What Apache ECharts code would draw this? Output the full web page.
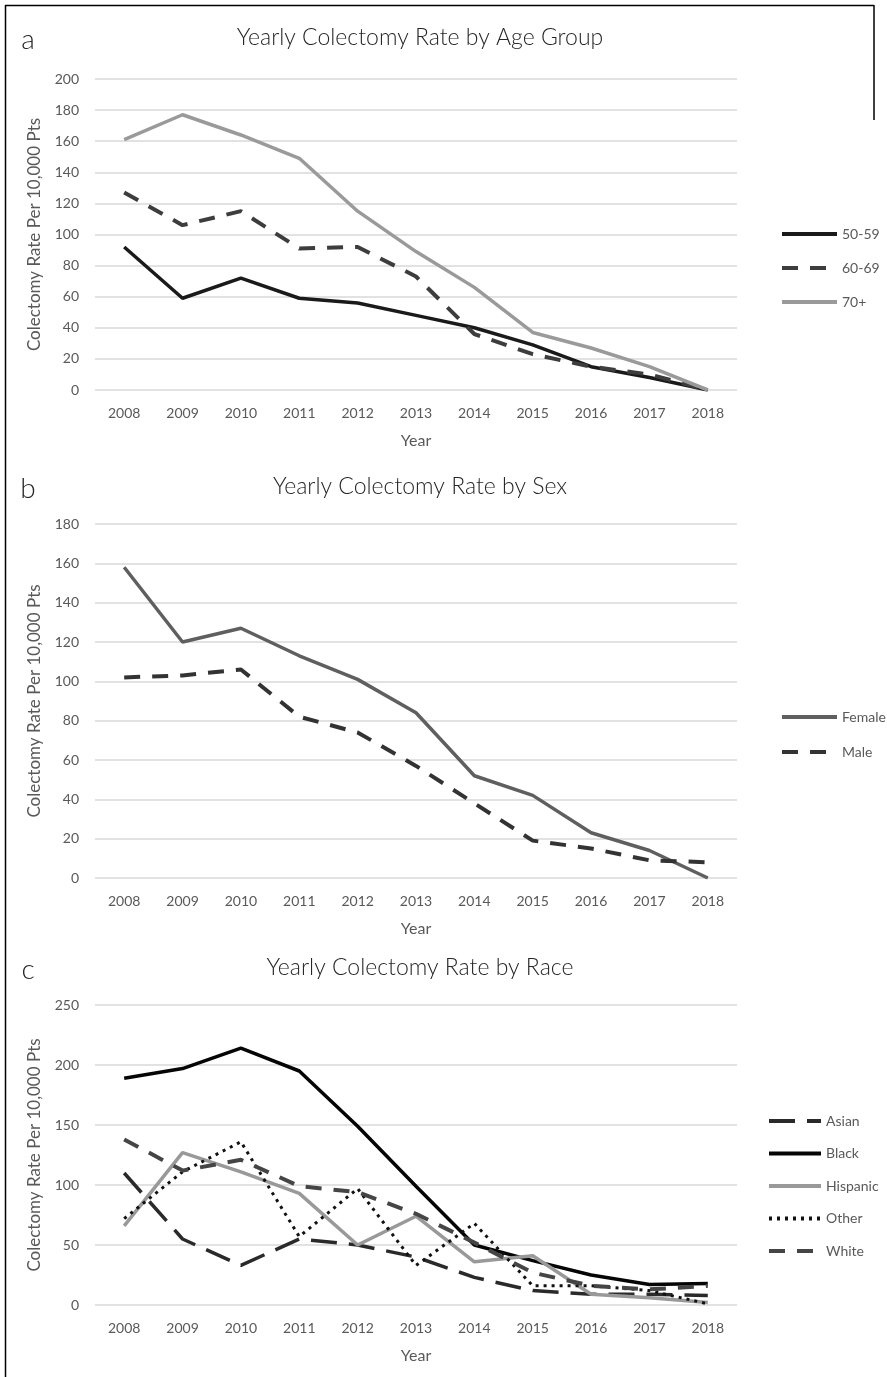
<!DOCTYPE html>
<html>
<head>
<meta charset="utf-8">
<script src="https://cdn.jsdelivr.net/npm/echarts@6/dist/echarts.min.js"></script>
<style>
html,body{margin:0;padding:0;background:#fff;}
#c{width:887px;height:1377px;}
</style>
</head>
<body>
<div id="c"></div>
<script>
const years = ['2008','2009','2010','2011','2012','2013','2014','2015','2016','2017','2018'];

// Panel a: by age group
const age5059 = [92, 59, 72, 59, 56, 48, 40, 29, 15, 8, 0];
const age6069 = [127, 106, 115, 91, 92, 73, 36, 23, 15, 10, 0];
const age70   = [161, 177, 164, 149, 115, 89, 66, 37, 27, 15, 0];

// Panel b: by sex
const female = [158, 120, 127, 113, 101, 84, 52, 42, 23, 14, 0];
const male   = [102, 103, 106, 82, 74, 57, 38, 19, 15, 9, 8];

// Panel c: by race
const asian    = [110, 55, 33, 55, 50, 40, 23, 12, 9, 9, 8];
const black    = [189, 197, 214, 195, 149, 99, 50, 37, 25, 17, 18];
const hispanic = [66, 127, 111, 93, 50, 74, 36, 41, 9, 6, 2];
const other    = [72, 111, 136, 57, 97, 33, 68, 16, 16, 12, 1];
const white    = [138, 112, 121, 99, 94, 76, 52, 27, 16, 13, 16];

const yTicksA = {min: 0, max: 200, interval: 20};
const yTicksB = {min: 0, max: 180, interval: 20};
const yTicksC = {min: 0, max: 250, interval: 50};

const FONT = 'Lato, "Open Sans", sans-serif';
const LABEL = '#595959';
const GRIDC = '#d9d9d9';

const grids = [
  {left: 95, right: 150, top: 79, height: 311},
  {left: 95, right: 150, top: 524, height: 354},
  {left: 95, right: 150, top: 1005, height: 300}
];

function xAxis(i) {
  return {
    type: 'category', gridIndex: i, data: years, boundaryGap: true,
    axisLine: {show: false}, axisTick: {show: false},
    axisLabel: {color: LABEL, fontSize: 14, fontFamily: FONT, margin: 16},
    name: 'Year', nameLocation: 'middle', nameGap: 43,
    nameTextStyle: {color: LABEL, fontSize: 16, fontFamily: FONT}
  };
}
function yAxis(i, t) {
  return {
    type: 'value', gridIndex: i, min: t.min, max: t.max, interval: t.interval,
    axisLine: {show: false}, axisTick: {show: false},
    axisLabel: {color: LABEL, fontSize: 14, fontFamily: FONT, margin: 16},
    splitLine: {lineStyle: {color: GRIDC, width: 1.5}},
    name: 'Colectomy Rate Per 10,000 Pts', nameLocation: 'middle', nameGap: 52,
    nameTextStyle: {color: LABEL, fontSize: 17, fontFamily: FONT}
  };
}
function line(name, data, gi, color, width, type) {
  return {
    name: name, type: 'line', xAxisIndex: gi, yAxisIndex: gi, data: data,
    symbol: 'none', smooth: false, animation: false,
    itemStyle: {color: color},
    lineStyle: {color: color, width: width, type: type || 'solid', cap: 'butt'}
  };
}
function legend(names, left, top, gap, w) {
  return {
    data: names, orient: 'vertical', left: left, top: top, itemGap: gap,
    itemWidth: w, itemHeight: 14,
    itemStyle: {opacity: 0},
    lineStyle: {width: 4},
    textStyle: {color: LABEL, fontSize: 14, fontFamily: FONT}, padding: 0,
    selectedMode: false
  };
}
function txt(x, y, s, size, align) {
  return {type: 'text', x: x, y: y, style: {text: s, fontSize: size, fontFamily: FONT, fontWeight: 300,
    fill: '#262626', align: align || 'center', verticalAlign: 'middle'}};
}

const chart = echarts.init(document.getElementById('c'), null, {renderer: 'canvas'});
chart.setOption({
  backgroundColor: '#fff',
  animation: false,
  grid: grids,
  xAxis: [xAxis(0), xAxis(1), xAxis(2)],
  yAxis: [yAxis(0, yTicksA), yAxis(1, yTicksB), yAxis(2, yTicksC)],
  legend: [
    legend(['50-59', '60-69', '70+'], 780, 227, 20, 55),
    legend(['Female', 'Male'], 780, 710, 21, 55),
    legend(['Asian', 'Black', 'Hispanic', 'Other', 'White'], 767, 1114, 18.5, 52)
  ],
  series: [
    line('50-59', age5059, 0, '#1a1a1a', 3.5),
    line('60-69', age6069, 0, '#3d3d3d', 4, [16, 12]),
    line('70+', age70, 0, '#9a9a9a', 3.5),
    line('Female', female, 1, '#5f5f5f', 3.5),
    line('Male', male, 1, '#333333', 4, [16, 12]),
    line('Asian', asian, 2, '#2a2a2a', 3.5, [26, 12]),
    line('Black', black, 2, '#050505', 3.5),
    line('Hispanic', hispanic, 2, '#999999', 3.5),
    line('Other', other, 2, '#111111', 3, [3, 5]),
    line('White', white, 2, '#454545', 4, [16, 12])
  ],
  graphic: [
    {type: 'line', shape: {x1: 5.5, y1: 5, x2: 5.5, y2: 1377}, style: {stroke: '#000', lineWidth: 1.5}},
    {type: 'line', shape: {x1: 5, y1: 5.5, x2: 874, y2: 5.5}, style: {stroke: '#000', lineWidth: 1.5}},
    {type: 'line', shape: {x1: 874, y1: 5, x2: 874, y2: 120}, style: {stroke: '#000', lineWidth: 1.5}},
    txt(28, 40, 'a', 28),
    txt(420, 38, 'Yearly Colectomy Rate by Age Group', 23),
    txt(28, 489, 'b', 28),
    txt(420, 487, 'Yearly Colectomy Rate by Sex', 23),
    txt(28, 970, 'c', 28),
    txt(420, 968, 'Yearly Colectomy Rate by Race', 23)
  ]
});
</script>
</body>
</html>
